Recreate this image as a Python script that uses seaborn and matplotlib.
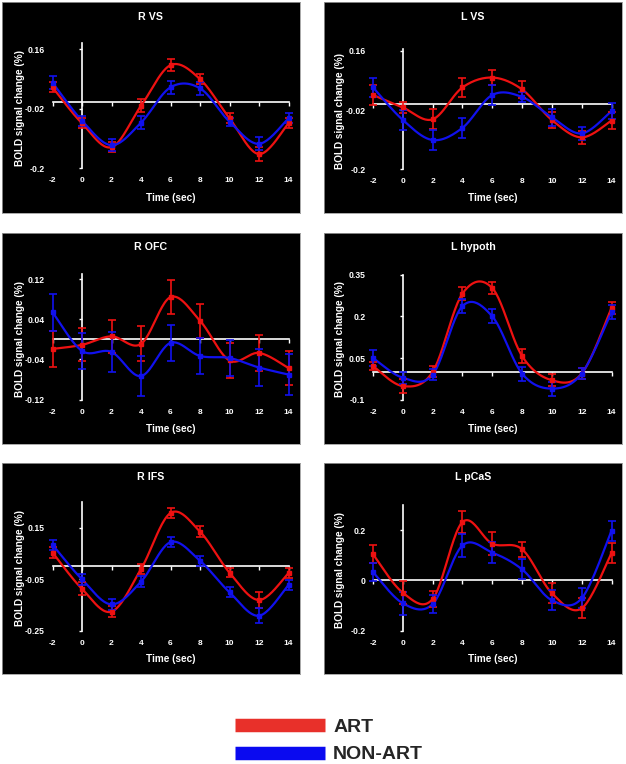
import numpy as np
import pandas as pd
import matplotlib
matplotlib.use("Agg")
import matplotlib.pyplot as plt
from matplotlib.lines import Line2D
import seaborn as sns

sns.set_style("white")
plt.rcParams["font.family"] = ["Liberation Sans", "DejaVu Sans"]
plt.rcParams["font.weight"] = "bold"

# ---------------- data ----------------
times = [-2, 0, 2, 4, 6, 8, 10, 12, 14]
time_labels = ["-2", "0", "2", "4", "6", "8", "10", "12", "14"]

rvs_art = [0.045, -0.064, -0.136, -0.011, 0.112, 0.070, -0.049, -0.157, -0.064]
rvs_art_err = [0.015, 0.015, 0.015, 0.020, 0.018, 0.016, 0.015, 0.020, 0.015]
rvs_non = [0.059, -0.056, -0.130, -0.062, 0.045, 0.042, -0.059, -0.126, -0.049]
rvs_non_err = [0.020, 0.015, 0.018, 0.020, 0.020, 0.020, 0.012, 0.020, 0.015]

lvs_art = [0.026, -0.012, -0.048, 0.049, 0.079, 0.043, -0.050, -0.103, -0.052]
lvs_art_err = [0.030, 0.018, 0.030, 0.030, 0.022, 0.025, 0.025, 0.020, 0.025]
lvs_non = [0.049, -0.050, -0.111, -0.074, 0.026, 0.020, -0.042, -0.091, -0.023]
lvs_non_err = [0.030, 0.030, 0.030, 0.030, 0.030, 0.015, 0.025, 0.020, 0.025]

rofc_art = [-0.019, -0.011, 0.006, -0.009, 0.084, 0.037, -0.042, -0.027, -0.057]
rofc_art_err = [0.036, 0.033, 0.033, 0.035, 0.034, 0.034, 0.034, 0.036, 0.034]
rofc_non = [0.054, -0.023, -0.025, -0.073, -0.007, -0.033, -0.037, -0.056, -0.070]
rofc_non_err = [0.037, 0.036, 0.039, 0.040, 0.036, 0.036, 0.036, 0.037, 0.040]

lhyp_art = [0.021, -0.051, 0.000, 0.282, 0.302, 0.057, -0.030, -0.006, 0.230]
lhyp_art_err = [0.015, 0.025, 0.020, 0.022, 0.022, 0.025, 0.022, 0.020, 0.022]
lhyp_non = [0.050, -0.021, -0.010, 0.237, 0.200, -0.006, -0.060, -0.006, 0.216]
lhyp_non_err = [0.030, 0.022, 0.020, 0.025, 0.025, 0.025, 0.025, 0.020, 0.025]

rifs_art = [0.053, -0.088, -0.176, -0.011, 0.206, 0.134, -0.025, -0.131, -0.027]
rifs_art_err = [0.020, 0.025, 0.022, 0.020, 0.020, 0.020, 0.018, 0.030, 0.020]
rifs_non = [0.083, -0.051, -0.148, -0.060, 0.093, 0.021, -0.101, -0.192, -0.073]
rifs_non_err = [0.020, 0.020, 0.020, 0.022, 0.020, 0.020, 0.020, 0.030, 0.020]

lpcas_art = [0.104, -0.049, -0.074, 0.232, 0.146, 0.124, -0.051, -0.111, 0.108]
lpcas_art_err = [0.035, 0.045, 0.030, 0.045, 0.045, 0.030, 0.040, 0.040, 0.040]
lpcas_non = [0.033, -0.091, -0.094, 0.139, 0.111, 0.044, -0.079, -0.071, 0.197]
lpcas_non_err = [0.035, 0.045, 0.035, 0.045, 0.040, 0.040, 0.040, 0.040, 0.040]

titles = ["R VS", "L VS", "R OFC", "L hypoth", "R IFS", "L pCaS"]
yticks = [[-0.2, -0.02, 0.16], [-0.2, -0.02, 0.16], [-0.12, -0.04, 0.04, 0.12],
          [-0.1, 0.05, 0.2, 0.35], [-0.25, -0.05, 0.15], [-0.2, 0, 0.2]]
ytick_labels = [["-0.2", "-0.02", "0.16"], ["-0.2", "-0.02", "0.16"],
                ["-0.12", "-0.04", "0.04", "0.12"], ["-0.1", "0.05", "0.2", "0.35"],
                ["-0.25", "-0.05", "0.15"], ["-0.2", "0", "0.2"]]
ylims = [(-0.2, 0.18), (-0.2, 0.165), (-0.12, 0.13), (-0.1, 0.35), (-0.25, 0.25), (-0.2, 0.3)]
series = [
    (rvs_art, rvs_art_err, rvs_non, rvs_non_err),
    (lvs_art, lvs_art_err, lvs_non, lvs_non_err),
    (rofc_art, rofc_art_err, rofc_non, rofc_non_err),
    (lhyp_art, lhyp_art_err, lhyp_non, lhyp_non_err),
    (rifs_art, rifs_art_err, rifs_non, rifs_non_err),
    (lpcas_art, lpcas_art_err, lpcas_non, lpcas_non_err),
]
legend_labels = ["ART", "NON-ART"]

# ---------------- layout (pixels) ----------------
W, H = 626, 764
RED = "#ee1111"
BLUE = "#1111ee"

panel_x = [(2, 300), (324, 622)]
panel_y = [(2, 213), (233, 444), (463, 674)]
data_x = [(52.5, 288.5), (373, 611.5)]
# (y px of ylim[0], y px of ylim[1])
data_y = [(168.3, 42.7), (169.3, 49.3), (399.7, 274.0), (399.7, 274.7),
          (630.7, 501.7), (630.7, 505.0)]
xlabel_y = [198, 429, 658.5]


def frect(x0, y0, x1, y1):
    return [x0 / W, 1 - y1 / H, (x1 - x0) / W, (y1 - y0) / H]


def smooth(x, y, n=24):
    P = np.column_stack([x, y]).astype(float)
    m = len(P)
    out = []
    for i in range(m - 1):
        p0 = P[max(i - 1, 0)]
        p1 = P[i]
        p2 = P[i + 1]
        p3 = P[min(i + 2, m - 1)]
        c1 = p1 + (p2 - p0) / 6.0
        c2 = p2 - (p3 - p1) / 6.0
        t = np.linspace(0, 1, n, endpoint=(i == m - 2))[:, None]
        B = ((1 - t) ** 3) * p1 + 3 * ((1 - t) ** 2) * t * c1 + 3 * (1 - t) * t ** 2 * c2 + t ** 3 * p2
        out.append(B)
    B = np.vstack(out)
    return B[:, 0], B[:, 1]


fig = plt.figure(figsize=(W / 100, H / 100), dpi=100)
fig.patch.set_facecolor("white")

for k in range(6):
    r, c = divmod(k, 2)
    px0, px1 = panel_x[c]
    py0, py1 = panel_y[r]
    bg = fig.add_axes(frect(px0, py0, px1, py1), zorder=0)
    bg.set_facecolor("black")
    bg.set_xticks([])
    bg.set_yticks([])
    for s in bg.spines.values():
        s.set_color("#9a9a9a")
        s.set_linewidth(0.6)

    dx0, dx1 = data_x[c]
    yb, yt = data_y[k]
    ax = fig.add_axes(frect(dx0, yt, dx1, yb), zorder=1)
    ax.set_facecolor("none")
    ax.set_xlim(-2, 14)
    ax.set_ylim(*ylims[k])

    art, art_err, non, non_err = series[k]
    for vals, errs, col in [(art, art_err, RED), (non, non_err, BLUE)]:
        xs, ys = smooth(times, vals)
        df = pd.DataFrame({"t": xs, "v": ys})
        sns.lineplot(data=df, x="t", y="v", ax=ax, color=col, lw=1.6,
                     sort=False, estimator=None, clip_on=False, zorder=3)
        ax.errorbar(times, vals, yerr=errs, fmt="s", color=col, ms=2.5,
                    elinewidth=1.2, capsize=3.2, capthick=1.2, clip_on=False, zorder=4)

    ax.set_xlabel("")
    ax.set_ylabel("")
    # spines: vertical axis at x=0, horizontal line at y=0 (top spine)
    ax.spines["left"].set_position(("data", 0))
    ax.spines["top"].set_position(("data", 0))
    ax.spines["top"].set_bounds(-2, 14)
    ax.spines["bottom"].set_visible(False)
    ax.spines["right"].set_visible(False)
    for s in ("left", "top"):
        ax.spines[s].set_color("white")
        ax.spines[s].set_linewidth(1.2)
        ax.spines[s].set_zorder(2)

    ax.set_xticks(times, time_labels)
    ax.tick_params(axis="x", bottom=False, labelbottom=True, top=True, labeltop=False,
                   direction="in", length=3, width=1.0, color="white",
                   labelcolor="white", labelsize=6, pad=6.5)
    ax.set_yticks(yticks[k], ytick_labels[k])
    ax.tick_params(axis="y", left=True, right=False, direction="out", length=2.5,
                   width=1.0, color="white", labelcolor="white", labelsize=6.2, pad=24.5)
    for lab in ax.get_xticklabels() + ax.get_yticklabels():
        lab.set_fontweight("bold")
    ax.grid(False)

    # texts
    fig.text((px0 + px1) / 2 / W, 1 - (py0 + 14.5) / H, titles[k], color="white",
             ha="center", va="center", fontsize=7.7, fontweight="bold")
    fig.text((dx0 + dx1) / 2 / W, 1 - xlabel_y[r] / H, "Time (sec)", color="white",
             ha="center", va="center", fontsize=7.2, fontweight="bold")
    ylab_x = 20 if c == 0 else 340
    fig.text(ylab_x / W, 1 - ((yb + yt) / 2 + 2) / H, "BOLD signal change (%)",
             color="white", rotation=90, ha="center", va="center",
             fontsize=7.2, fontweight="bold")

handles = [Line2D([0], [0], color="#e8302a", lw=9.7, solid_capstyle="butt"),
           Line2D([0], [0], color="#0a0af0", lw=9.7, solid_capstyle="butt")]
fig.legend(handles, legend_labels, loc="upper left",
           bbox_to_anchor=(235 / W, 1 - 718 / H), frameon=False,
           handlelength=4.63, handletextpad=0.42, labelspacing=0.52,
           borderpad=0, borderaxespad=0,
           prop=dict(family="Liberation Sans", weight="bold", size=14))

fig.savefig("out.png", dpi=100, facecolor="white")
